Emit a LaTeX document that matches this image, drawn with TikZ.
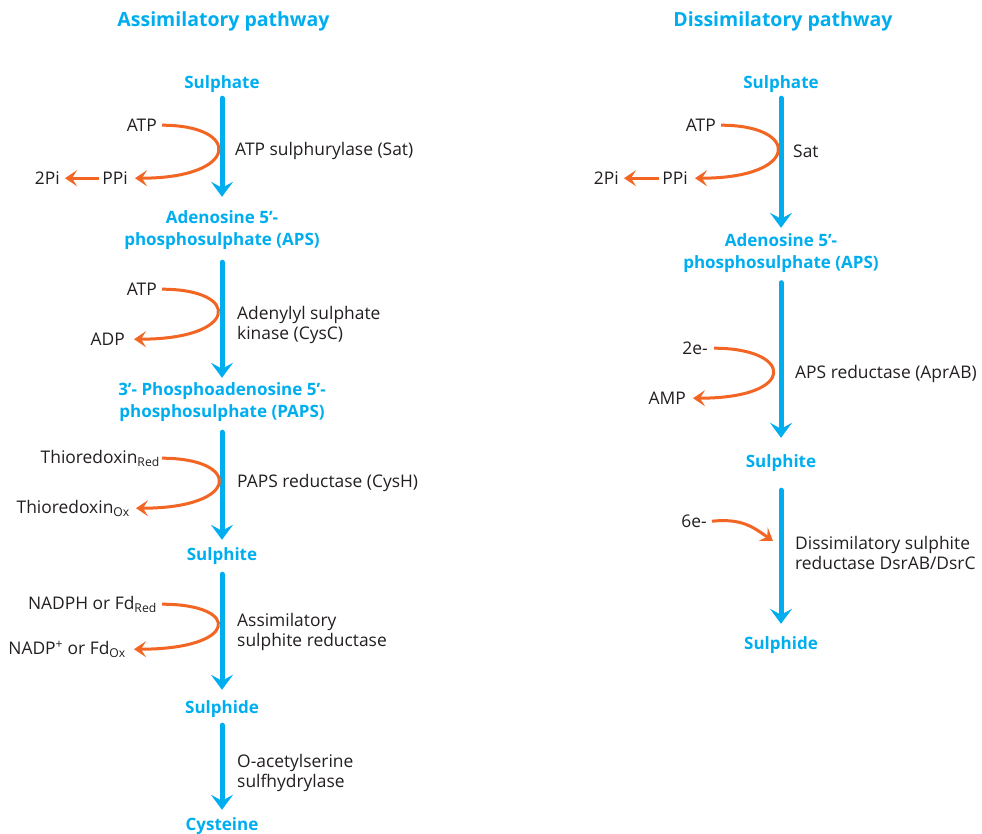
\documentclass[tikz,border=0pt]{standalone}
\usepackage{fontspec}
\setmainfont{Open Sans}
\usetikzlibrary{arrows.meta}
\definecolor{cblue}{HTML}{00AEEF}
\definecolor{corange}{HTML}{F26522}
\definecolor{ctext}{HTML}{231F20}
\begin{document}
\begin{tikzpicture}[x=1pt,y=-1pt,
  title/.style={text=cblue,font=\bfseries\fontsize{19.5}{24}\selectfont,inner sep=0pt,yshift=-1.5pt},
  met/.style={text=cblue,font=\bfseries\fontsize{17}{22}\selectfont,align=center,inner sep=0pt,yshift=-1.5pt},
  lab/.style={text=ctext,font=\fontsize{17.4}{20.5}\selectfont,align=left,inner sep=0pt,yshift=-1.2pt},
  mainarrow/.style={draw=cblue,line width=5pt,line cap=round,-{Stealth[length=15pt,width=22pt,inset=6pt]}},
  side/.style={draw=corange,line width=3pt,-{Stealth[length=12pt,width=16pt,inset=5pt]}}]
\useasboundingbox[fill=white] (0,0) rectangle (982,834);
% ---------------- Assimilatory ----------------
\node[title] (t1) at (223.5,20) {Assimilatory pathway};
\node[met] (a1) at (222,83) {Sulphate};
\node[met] (a2) at (222,229) {Adenosine 5’-\\phosphosulphate (APS)};
\node[met] (a3) at (222,401) {3’- Phosphoadenosine 5’-\\phosphosulphate (PAPS)};
\node[met] (a4) at (222,555) {Sulphite};
\node[met] (a5) at (222,708) {Sulphide};
\node[met] (a6) at (222,825) {Cysteine};
\draw[mainarrow,shorten <=5pt,shorten >=14pt] (a1.south) -- (a2.north);
\draw[mainarrow,shorten <=12pt,shorten >=5pt] (a2.south) -- (a3.north);
\draw[mainarrow,shorten <=10pt,shorten >=8pt] (a3.south) -- (a4.north);
\draw[mainarrow,shorten <=9pt,shorten >=11pt] (a4.south) -- (a5.north);
\draw[mainarrow,shorten <=7pt,shorten >=8pt] (a5.south) -- (a6.north);
\node[lab,anchor=west] (e1) at (235,150) {ATP sulphurylase (Sat)};
\node[lab,anchor=west] (e2) at (237,324) {Adenylyl sulphate\\kinase (CysC)};
\node[lab,anchor=west] (e3) at (237,482) {PAPS reductase (CysH)};
\node[lab,anchor=west] (e4) at (237,631) {Assimilatory\\sulphite reductase};
\node[lab,anchor=west] (e5) at (237,772) {O-acetylserine\\sulfhydrylase};
% cofactors
\node[lab,anchor=east] (c1a) at (157,124) {ATP};
\node[lab,anchor=east] (c1b) at (128,177) {PPi};
\node[lab,anchor=east] (c1c) at (60,177) {2Pi};
\draw[side] ([xshift=5pt]c1a.east) .. controls +(80,0) and +(105,0) .. ([xshift=7pt]c1b.east);
\draw[side] ([xshift=-3pt]c1b.west) -- ([xshift=5pt]c1c.east);
\node[lab,anchor=east] (c2a) at (157,288) {ATP};
\node[lab,anchor=east] (c2b) at (125,338) {ADP};
\draw[side] ([xshift=5pt]c2a.east) .. controls +(80,0) and +(105,0) .. ([xshift=9pt]c2b.east);
\node[lab,anchor=east] (c3a) at (160,457) {Thioredoxin\textsubscript{Red}};
\node[lab,anchor=east] (c3b) at (130,507) {Thioredoxin\textsubscript{Ox}};
\draw[side] ([xshift=2pt]c3a.east) .. controls +(80,0) and +(105,0) .. ([xshift=6pt]c3b.east);
\node[lab,anchor=east] (c4a) at (157,603) {NADPH or Fd\textsubscript{Red}};
\node[lab,anchor=east] (c4b) at (126,648) {NADP\textsuperscript{+} or Fd\textsubscript{Ox}};
\draw[side] ([xshift=5pt]c4a.east) .. controls +(80,0) and +(105,0) .. ([xshift=8pt]c4b.east);
% ---------------- Dissimilatory ----------------
\node[title] (t2) at (783,20) {Dissimilatory pathway};
\node[met] (d1) at (781,83) {Sulphate};
\node[met] (d2) at (781,252) {Adenosine 5’-\\phosphosulphate (APS)};
\node[met] (d3) at (781,462) {Sulphite};
\node[met] (d4) at (781,644) {Sulphide};
\draw[mainarrow,shorten <=5pt,shorten >=6pt] (d1.south) -- (d2.north);
\draw[mainarrow,shorten <=9.5pt,shorten >=17pt] (d2.south) -- (d3.north);
\draw[mainarrow,shorten <=18pt,shorten >=13pt] (d3.south) -- (d4.north);
\node[lab,anchor=west] (f1) at (793,150) {Sat};
\node[lab,anchor=west] (f2) at (795,373) {APS reductase (AprAB)};
\node[lab,anchor=west] (f3) at (795,552) {Dissimilatory sulphite\\reductase DsrAB/DsrC};
\node[lab,anchor=east] (k1a) at (716,124) {ATP};
\node[lab,anchor=east] (k1b) at (688,177) {PPi};
\node[lab,anchor=east] (k1c) at (619,177) {2Pi};
\draw[side] ([xshift=5pt]k1a.east) .. controls +(80,0) and +(105,0) .. ([xshift=7pt]k1b.east);
\draw[side] ([xshift=-3pt]k1b.west) -- ([xshift=5pt]k1c.east);
\node[lab,anchor=east] (k2a) at (708,347) {2e-};
\node[lab,anchor=east] (k2b) at (686,397) {AMP};
\draw[side] ([xshift=6pt]k2a.east) .. controls +(80,0) and +(105,0) .. ([xshift=7pt]k2b.east);
\node[lab,anchor=east] (k3a) at (707,520) {6e-};
\coordinate (k3t) at (773,541);
\draw[side] ([xshift=5pt]k3a.east) .. controls +(30,-3) and +(-20,-14) .. (k3t);
\end{tikzpicture}
\end{document}
